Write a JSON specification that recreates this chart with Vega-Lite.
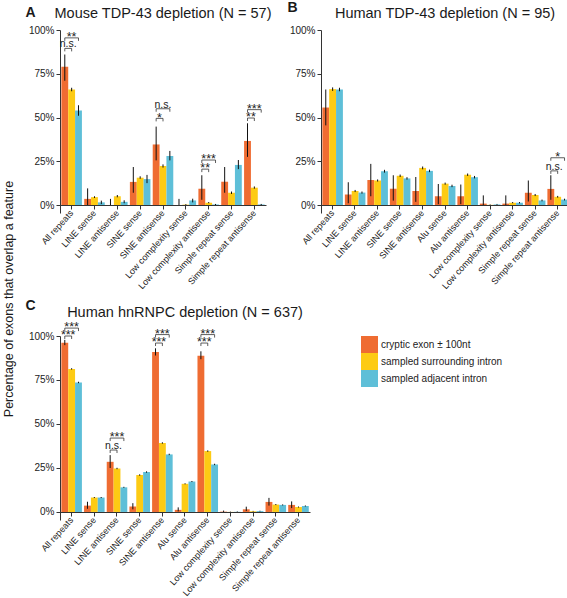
{
  "$schema": "https://vega.github.io/schema/vega-lite/v6.json",
  "padding": {"left": 2, "top": 0, "right": 0, "bottom": 0},
  "config": {
    "font": "Liberation Sans",
    "view": {"stroke": null},
    "axis": {"grid": false, "domainColor": "#333", "tickColor": "#333", "labelColor": "#222", "titleColor": "#222"},
    "title": {"font": "Liberation Sans", "fontWeight": "normal", "color": "#1a1a1a"}
  },
  "title": {"text": "Percentage of exons that overlap a feature", "orient": "left", "anchor": "middle", "fontSize": 12.5, "offset": 10},
  "datasets": {
    "A": [
      {"c": "All repeats", "s": "cryptic exon ± 100nt", "v": 79, "lo": 71, "hi": 86},
      {"c": "All repeats", "s": "sampled surrounding intron", "v": 66, "lo": 65, "hi": 67},
      {"c": "All repeats", "s": "sampled adjacent intron", "v": 54, "lo": 51, "hi": 57},
      {"c": "LINE sense", "s": "cryptic exon ± 100nt", "v": 3.5, "lo": 0, "hi": 9.5},
      {"c": "LINE sense", "s": "sampled surrounding intron", "v": 4.5, "lo": 4, "hi": 5},
      {"c": "LINE sense", "s": "sampled adjacent intron", "v": 1.5, "lo": 0.5, "hi": 2.5},
      {"c": "LINE antisense", "s": "cryptic exon ± 100nt", "v": 0, "lo": 0, "hi": 3.5},
      {"c": "LINE antisense", "s": "sampled surrounding intron", "v": 5, "lo": 4.4, "hi": 5.7},
      {"c": "LINE antisense", "s": "sampled adjacent intron", "v": 1.8, "lo": 1, "hi": 2.7},
      {"c": "SINE sense", "s": "cryptic exon ± 100nt", "v": 13.2, "lo": 7, "hi": 21.7},
      {"c": "SINE sense", "s": "sampled surrounding intron", "v": 15.6, "lo": 15, "hi": 16.4},
      {"c": "SINE sense", "s": "sampled adjacent intron", "v": 14.8, "lo": 12.5, "hi": 17.2},
      {"c": "SINE antisense", "s": "cryptic exon ± 100nt", "v": 34.6, "lo": 25.5, "hi": 44.8},
      {"c": "SINE antisense", "s": "sampled surrounding intron", "v": 22.3, "lo": 21.4, "hi": 23.2},
      {"c": "SINE antisense", "s": "sampled adjacent intron", "v": 28, "lo": 25.5, "hi": 30.9},
      {"c": "Low complexity sense", "s": "cryptic exon ± 100nt", "v": 0, "lo": 0, "hi": 3.5},
      {"c": "Low complexity sense", "s": "sampled surrounding intron", "v": 0.2, "lo": 0, "hi": 0.5},
      {"c": "Low complexity sense", "s": "sampled adjacent intron", "v": 2.6, "lo": 1.5, "hi": 3.6},
      {"c": "Low complexity antisense", "s": "cryptic exon ± 100nt", "v": 9.3, "lo": 3, "hi": 17},
      {"c": "Low complexity antisense", "s": "sampled surrounding intron", "v": 1.3, "lo": 1, "hi": 1.7},
      {"c": "Low complexity antisense", "s": "sampled adjacent intron", "v": 0.3, "lo": 0, "hi": 0.6},
      {"c": "Simple repeat sense", "s": "cryptic exon ± 100nt", "v": 13.3, "lo": 7, "hi": 21.7},
      {"c": "Simple repeat sense", "s": "sampled surrounding intron", "v": 7, "lo": 6.3, "hi": 7.7},
      {"c": "Simple repeat sense", "s": "sampled adjacent intron", "v": 22.9, "lo": 20.5, "hi": 25.7},
      {"c": "Simple repeat antisense", "s": "cryptic exon ± 100nt", "v": 36.6, "lo": 27.5, "hi": 46.7},
      {"c": "Simple repeat antisense", "s": "sampled surrounding intron", "v": 9.9, "lo": 9.3, "hi": 10.6},
      {"c": "Simple repeat antisense", "s": "sampled adjacent intron", "v": 0.3, "lo": 0, "hi": 0.6}
    ],
    "Abr": [
      {"c": "All repeats", "b": "lower", "from": "cryptic exon ± 100nt", "to": "sampled surrounding intron", "y": 89.5, "t": "n.s."},
      {"c": "All repeats", "b": "upper", "from": "cryptic exon ± 100nt", "to": "sampled adjacent intron", "y": 95.5, "t": "**"},
      {"c": "SINE antisense", "b": "lower", "from": "cryptic exon ± 100nt", "to": "sampled surrounding intron", "y": 49.5, "t": "*"},
      {"c": "SINE antisense", "b": "upper", "from": "cryptic exon ± 100nt", "to": "sampled adjacent intron", "y": 55, "t": "n.s."},
      {"c": "Low complexity antisense", "b": "lower", "from": "cryptic exon ± 100nt", "to": "sampled surrounding intron", "y": 20.5, "t": "**"},
      {"c": "Low complexity antisense", "b": "upper", "from": "cryptic exon ± 100nt", "to": "sampled adjacent intron", "y": 25.7, "t": "***"},
      {"c": "Simple repeat antisense", "b": "lower", "from": "cryptic exon ± 100nt", "to": "sampled surrounding intron", "y": 49.7, "t": "**"},
      {"c": "Simple repeat antisense", "b": "upper", "from": "cryptic exon ± 100nt", "to": "sampled adjacent intron", "y": 54.5, "t": "***"}
    ],
    "B": [
      {"c": "All repeats", "s": "cryptic exon ± 100nt", "v": 55.7, "lo": 45.5, "hi": 66},
      {"c": "All repeats", "s": "sampled surrounding intron", "v": 66.2, "lo": 65.2, "hi": 67.2},
      {"c": "All repeats", "s": "sampled adjacent intron", "v": 66, "lo": 65, "hi": 67},
      {"c": "LINE sense", "s": "cryptic exon ± 100nt", "v": 6, "lo": 1, "hi": 13},
      {"c": "LINE sense", "s": "sampled surrounding intron", "v": 8, "lo": 7.4, "hi": 8.6},
      {"c": "LINE sense", "s": "sampled adjacent intron", "v": 7.1, "lo": 6.5, "hi": 7.7},
      {"c": "LINE antisense", "s": "cryptic exon ± 100nt", "v": 14.3, "lo": 5, "hi": 23.5},
      {"c": "LINE antisense", "s": "sampled surrounding intron", "v": 14, "lo": 13.4, "hi": 14.6},
      {"c": "LINE antisense", "s": "sampled adjacent intron", "v": 19.3, "lo": 18.5, "hi": 20.1},
      {"c": "SINE sense", "s": "cryptic exon ± 100nt", "v": 9.3, "lo": 2.5, "hi": 17},
      {"c": "SINE sense", "s": "sampled surrounding intron", "v": 16.7, "lo": 16, "hi": 17.4},
      {"c": "SINE sense", "s": "sampled adjacent intron", "v": 15.2, "lo": 14.5, "hi": 15.9},
      {"c": "SINE antisense", "s": "cryptic exon ± 100nt", "v": 8, "lo": 1.8, "hi": 16},
      {"c": "SINE antisense", "s": "sampled surrounding intron", "v": 21.2, "lo": 20.4, "hi": 22},
      {"c": "SINE antisense", "s": "sampled adjacent intron", "v": 19.5, "lo": 18.8, "hi": 20.2},
      {"c": "Alu sense", "s": "cryptic exon ± 100nt", "v": 5, "lo": 0.5, "hi": 12},
      {"c": "Alu sense", "s": "sampled surrounding intron", "v": 12.2, "lo": 11.6, "hi": 12.8},
      {"c": "Alu sense", "s": "sampled adjacent intron", "v": 10.9, "lo": 10.2, "hi": 11.6},
      {"c": "Alu antisense", "s": "cryptic exon ± 100nt", "v": 5, "lo": 0.5, "hi": 11.7},
      {"c": "Alu antisense", "s": "sampled surrounding intron", "v": 17.3, "lo": 16.6, "hi": 18},
      {"c": "Alu antisense", "s": "sampled adjacent intron", "v": 15.9, "lo": 15.2, "hi": 16.6},
      {"c": "Low complexity sense", "s": "cryptic exon ± 100nt", "v": 0.8, "lo": 0, "hi": 5.5},
      {"c": "Low complexity sense", "s": "sampled surrounding intron", "v": 0.1, "lo": 0, "hi": 0.3},
      {"c": "Low complexity sense", "s": "sampled adjacent intron", "v": 0.3, "lo": 0.1, "hi": 0.6},
      {"c": "Low complexity antisense", "s": "cryptic exon ± 100nt", "v": 0.8, "lo": 0, "hi": 5.5},
      {"c": "Low complexity antisense", "s": "sampled surrounding intron", "v": 1.3, "lo": 1, "hi": 1.7},
      {"c": "Low complexity antisense", "s": "sampled adjacent intron", "v": 1.3, "lo": 0.9, "hi": 1.7},
      {"c": "Simple repeat sense", "s": "cryptic exon ± 100nt", "v": 7, "lo": 2, "hi": 14},
      {"c": "Simple repeat sense", "s": "sampled surrounding intron", "v": 5.7, "lo": 5.1, "hi": 6.3},
      {"c": "Simple repeat sense", "s": "sampled adjacent intron", "v": 2.6, "lo": 2.1, "hi": 3.1},
      {"c": "Simple repeat antisense", "s": "cryptic exon ± 100nt", "v": 9.2, "lo": 3, "hi": 17},
      {"c": "Simple repeat antisense", "s": "sampled surrounding intron", "v": 4.7, "lo": 4.2, "hi": 5.2},
      {"c": "Simple repeat antisense", "s": "sampled adjacent intron", "v": 3.1, "lo": 2.6, "hi": 3.6}
    ],
    "Bbr": [
      {"c": "Simple repeat antisense", "b": "lower", "from": "cryptic exon ± 100nt", "to": "sampled surrounding intron", "y": 19.5, "t": "n.s."},
      {"c": "Simple repeat antisense", "b": "upper", "from": "cryptic exon ± 100nt", "to": "sampled adjacent intron", "y": 27, "t": "*"}
    ],
    "C": [
      {"c": "All repeats", "s": "cryptic exon ± 100nt", "v": 96.2, "lo": 94.8, "hi": 97.8},
      {"c": "All repeats", "s": "sampled surrounding intron", "v": 81.3, "lo": 80.9, "hi": 81.7},
      {"c": "All repeats", "s": "sampled adjacent intron", "v": 73.6, "lo": 73.2, "hi": 74},
      {"c": "LINE sense", "s": "cryptic exon ± 100nt", "v": 3.6, "lo": 1.8, "hi": 5.8},
      {"c": "LINE sense", "s": "sampled surrounding intron", "v": 8.2, "lo": 7.9, "hi": 8.5},
      {"c": "LINE sense", "s": "sampled adjacent intron", "v": 8.2, "lo": 7.9, "hi": 8.5},
      {"c": "LINE antisense", "s": "cryptic exon ± 100nt", "v": 28.5, "lo": 25, "hi": 32.3},
      {"c": "LINE antisense", "s": "sampled surrounding intron", "v": 24.7, "lo": 24.3, "hi": 25.1},
      {"c": "LINE antisense", "s": "sampled adjacent intron", "v": 14, "lo": 13.7, "hi": 14.3},
      {"c": "SINE sense", "s": "cryptic exon ± 100nt", "v": 3.1, "lo": 1.5, "hi": 5},
      {"c": "SINE sense", "s": "sampled surrounding intron", "v": 21, "lo": 20.6, "hi": 21.4},
      {"c": "SINE sense", "s": "sampled adjacent intron", "v": 22.7, "lo": 22.3, "hi": 23.1},
      {"c": "SINE antisense", "s": "cryptic exon ± 100nt", "v": 90.9, "lo": 88.9, "hi": 93},
      {"c": "SINE antisense", "s": "sampled surrounding intron", "v": 39.2, "lo": 38.8, "hi": 39.6},
      {"c": "SINE antisense", "s": "sampled adjacent intron", "v": 32.7, "lo": 32.3, "hi": 33.1},
      {"c": "Alu sense", "s": "cryptic exon ± 100nt", "v": 1.2, "lo": 0.3, "hi": 2.6},
      {"c": "Alu sense", "s": "sampled surrounding intron", "v": 16, "lo": 15.7, "hi": 16.3},
      {"c": "Alu sense", "s": "sampled adjacent intron", "v": 17.3, "lo": 17, "hi": 17.6},
      {"c": "Alu antisense", "s": "cryptic exon ± 100nt", "v": 88.8, "lo": 86.8, "hi": 91.3},
      {"c": "Alu antisense", "s": "sampled surrounding intron", "v": 34.6, "lo": 34.2, "hi": 35},
      {"c": "Alu antisense", "s": "sampled adjacent intron", "v": 27, "lo": 26.6, "hi": 27.4},
      {"c": "Low complexity sense", "s": "cryptic exon ± 100nt", "v": 0.2, "lo": 0, "hi": 0.8},
      {"c": "Low complexity sense", "s": "sampled surrounding intron", "v": 0.05, "lo": 0, "hi": 0.2},
      {"c": "Low complexity sense", "s": "sampled adjacent intron", "v": 0.1, "lo": 0, "hi": 0.3},
      {"c": "Low complexity antisense", "s": "cryptic exon ± 100nt", "v": 1.5, "lo": 0.5, "hi": 3},
      {"c": "Low complexity antisense", "s": "sampled surrounding intron", "v": 0.4, "lo": 0.2, "hi": 0.6},
      {"c": "Low complexity antisense", "s": "sampled adjacent intron", "v": 0.5, "lo": 0.3, "hi": 0.7},
      {"c": "Simple repeat sense", "s": "cryptic exon ± 100nt", "v": 5.7, "lo": 3.6, "hi": 8},
      {"c": "Simple repeat sense", "s": "sampled surrounding intron", "v": 4.2, "lo": 3.9, "hi": 4.5},
      {"c": "Simple repeat sense", "s": "sampled adjacent intron", "v": 4, "lo": 3.7, "hi": 4.3},
      {"c": "Simple repeat antisense", "s": "cryptic exon ± 100nt", "v": 4, "lo": 2.2, "hi": 6},
      {"c": "Simple repeat antisense", "s": "sampled surrounding intron", "v": 2.8, "lo": 2.5, "hi": 3.1},
      {"c": "Simple repeat antisense", "s": "sampled adjacent intron", "v": 3.4, "lo": 3.1, "hi": 3.7}
    ],
    "Cbr": [
      {"c": "All repeats", "b": "lower", "from": "cryptic exon ± 100nt", "to": "sampled surrounding intron", "y": 100, "t": "***"},
      {"c": "All repeats", "b": "upper", "from": "cryptic exon ± 100nt", "to": "sampled adjacent intron", "y": 104.5, "t": "***"},
      {"c": "LINE antisense", "b": "lower", "from": "cryptic exon ± 100nt", "to": "sampled surrounding intron", "y": 35.2, "t": "n.s."},
      {"c": "LINE antisense", "b": "upper", "from": "cryptic exon ± 100nt", "to": "sampled adjacent intron", "y": 42, "t": "***"},
      {"c": "SINE antisense", "b": "lower", "from": "cryptic exon ± 100nt", "to": "sampled surrounding intron", "y": 96, "t": "***"},
      {"c": "SINE antisense", "b": "upper", "from": "cryptic exon ± 100nt", "to": "sampled adjacent intron", "y": 100.8, "t": "***"},
      {"c": "Alu antisense", "b": "lower", "from": "cryptic exon ± 100nt", "to": "sampled surrounding intron", "y": 96, "t": "***"},
      {"c": "Alu antisense", "b": "upper", "from": "cryptic exon ± 100nt", "to": "sampled adjacent intron", "y": 100.8, "t": "***"}
    ]
  },
  "vconcat": [
    {
      "hconcat": [
        {
          "title": {"text": "A", "anchor": "start", "fontSize": 14, "fontWeight": "bold", "offset": -14, "dx": -3},
          "vconcat": [
            {
              "width": 206, "height": 183,
              "title": {"text": "Mouse TDP-43 depletion (N = 57)", "fontSize": 14.5, "anchor": "middle", "frame": "group", "offset": 4},
              "encoding": {
                "x": {"field": "c", "type": "nominal", "sort": null, "title": null,
                  "scale": {"domain": ["All repeats", "LINE sense", "LINE antisense", "SINE sense", "SINE antisense", "Low complexity sense", "Low complexity antisense", "Simple repeat sense", "Simple repeat antisense"], "paddingInner": 0.1, "paddingOuter": 0.06},
                  "axis": {"labelAngle": -48, "labelAlign": "right", "labelBaseline": "middle", "labelFontSize": 9, "tickSize": 4, "offset": -8, "labelPadding": 2, "labelLimit": 0}}
              },
              "layer": [
                {"data": {"name": "A"}, "mark": {"type": "bar"},
                  "encoding": {
                    "xOffset": {"field": "s", "type": "nominal", "sort": null, "scale": {"domain": ["cryptic exon ± 100nt", "sampled surrounding intron", "sampled adjacent intron"], "paddingInner": 0, "paddingOuter": 0}},
                    "y": {"field": "v", "type": "quantitative", "title": null, "scale": {"domain": [-4.57, 100], "nice": false, "zero": false},
                      "axis": {"values": [0, 25, 50, 75, 100], "labelExpr": "datum.value + '%'", "labelFontSize": 10, "tickSize": 4, "labelPadding": 2}},
                    "color": {"field": "s", "type": "nominal", "legend": null, "scale": {"domain": ["cryptic exon ± 100nt", "sampled surrounding intron", "sampled adjacent intron"], "range": ["#EF6C32", "#FDCB14", "#5EBFD8"]}}
                  }},
                {"data": {"name": "A"}, "mark": {"type": "rule", "color": "#111", "strokeWidth": 1},
                  "encoding": {"xOffset": {"field": "s", "type": "nominal", "sort": null}, "y": {"field": "lo", "type": "quantitative", "title": null}, "y2": {"field": "hi"}}},
                {"data": {"name": "Abr"}, "transform": [{"fold": ["from", "to"], "as": ["end", "s"]}], "mark": {"type": "line", "color": "#333", "strokeWidth": 0.8},
                  "encoding": {"xOffset": {"field": "s", "type": "nominal", "sort": null}, "y": {"field": "y", "type": "quantitative", "title": null}, "detail": [{"field": "c"}, {"field": "b"}]}},
                {"data": {"name": "Abr"}, "transform": [{"fold": ["from", "to"], "as": ["end", "s"]}], "mark": {"type": "rule", "color": "#333", "strokeWidth": 0.8, "y2Offset": 3},
                  "encoding": {"xOffset": {"field": "s", "type": "nominal", "sort": null}, "y": {"field": "y", "type": "quantitative", "title": null}, "y2": {"field": "y"}}},
                {"data": {"name": "Abr"}, "transform": [{"filter": "datum.b == 'lower' && datum.t == 'n.s.'"}], "mark": {"type": "text", "fontSize": 10.5, "dx": 3.4, "dy": -1.2, "baseline": "alphabetic", "color": "#222"},
                  "encoding": {"xOffset": {"field": "from", "type": "nominal", "sort": null}, "y": {"field": "y", "type": "quantitative", "title": null}, "text": {"field": "t"}}},
                {"data": {"name": "Abr"}, "transform": [{"filter": "datum.b == 'lower' && datum.t != 'n.s.'"}], "mark": {"type": "text", "fontSize": 12.5, "dx": 3.4, "dy": 3.3, "baseline": "alphabetic", "color": "#222"},
                  "encoding": {"xOffset": {"field": "from", "type": "nominal", "sort": null}, "y": {"field": "y", "type": "quantitative", "title": null}, "text": {"field": "t"}}},
                {"data": {"name": "Abr"}, "transform": [{"filter": "datum.b == 'upper' && datum.t == 'n.s.'"}], "mark": {"type": "text", "fontSize": 10.5, "dx": 6.8, "dy": -1.2, "baseline": "alphabetic", "color": "#222"},
                  "encoding": {"xOffset": {"field": "from", "type": "nominal", "sort": null}, "y": {"field": "y", "type": "quantitative", "title": null}, "text": {"field": "t"}}},
                {"data": {"name": "Abr"}, "transform": [{"filter": "datum.b == 'upper' && datum.t != 'n.s.'"}], "mark": {"type": "text", "fontSize": 12.5, "dx": 6.8, "dy": 3.3, "baseline": "alphabetic", "color": "#222"},
                  "encoding": {"xOffset": {"field": "from", "type": "nominal", "sort": null}, "y": {"field": "y", "type": "quantitative", "title": null}, "text": {"field": "t"}}}
              ]
            }
          ],
          "resolve": {"scale": {"color": "independent"}}
        },
        {
          "title": {"text": "B", "anchor": "start", "fontSize": 14, "fontWeight": "bold", "offset": -9, "dx": -2},
          "vconcat": [
            {
              "width": 248, "height": 183,
              "title": {"text": "Human TDP-43 depletion (N = 95)", "fontSize": 14.5, "anchor": "middle", "frame": "group", "offset": 4},
              "encoding": {
                "x": {"field": "c", "type": "nominal", "sort": null, "title": null,
                  "scale": {"domain": ["All repeats", "LINE sense", "LINE antisense", "SINE sense", "SINE antisense", "Alu sense", "Alu antisense", "Low complexity sense", "Low complexity antisense", "Simple repeat sense", "Simple repeat antisense"], "paddingInner": 0.1, "paddingOuter": 0.06},
                  "axis": {"labelAngle": -48, "labelAlign": "right", "labelBaseline": "middle", "labelFontSize": 9, "tickSize": 4, "offset": -8, "labelPadding": 2, "labelLimit": 0}}
              },
              "layer": [
                {"data": {"name": "B"}, "mark": {"type": "bar"},
                  "encoding": {
                    "xOffset": {"field": "s", "type": "nominal", "sort": null, "scale": {"domain": ["cryptic exon ± 100nt", "sampled surrounding intron", "sampled adjacent intron"], "paddingInner": 0, "paddingOuter": 0}},
                    "y": {"field": "v", "type": "quantitative", "title": null, "scale": {"domain": [-4.57, 100], "nice": false, "zero": false},
                      "axis": {"values": [0, 25, 50, 75, 100], "labelExpr": "datum.value + '%'", "labelFontSize": 10, "tickSize": 4, "labelPadding": 2}},
                    "color": {"field": "s", "type": "nominal", "legend": null, "scale": {"domain": ["cryptic exon ± 100nt", "sampled surrounding intron", "sampled adjacent intron"], "range": ["#EF6C32", "#FDCB14", "#5EBFD8"]}}
                  }},
                {"data": {"name": "B"}, "mark": {"type": "rule", "color": "#111", "strokeWidth": 1},
                  "encoding": {"xOffset": {"field": "s", "type": "nominal", "sort": null}, "y": {"field": "lo", "type": "quantitative", "title": null}, "y2": {"field": "hi"}}},
                {"data": {"name": "Bbr"}, "transform": [{"fold": ["from", "to"], "as": ["end", "s"]}], "mark": {"type": "line", "color": "#333", "strokeWidth": 0.8},
                  "encoding": {"xOffset": {"field": "s", "type": "nominal", "sort": null}, "y": {"field": "y", "type": "quantitative", "title": null}, "detail": [{"field": "c"}, {"field": "b"}]}},
                {"data": {"name": "Bbr"}, "transform": [{"fold": ["from", "to"], "as": ["end", "s"]}], "mark": {"type": "rule", "color": "#333", "strokeWidth": 0.8, "y2Offset": 3},
                  "encoding": {"xOffset": {"field": "s", "type": "nominal", "sort": null}, "y": {"field": "y", "type": "quantitative", "title": null}, "y2": {"field": "y"}}},
                {"data": {"name": "Bbr"}, "transform": [{"filter": "datum.b == 'lower'"}], "mark": {"type": "text", "fontSize": 10.5, "dx": 3.4, "dy": -1.2, "baseline": "alphabetic", "color": "#222"},
                  "encoding": {"xOffset": {"field": "from", "type": "nominal", "sort": null}, "y": {"field": "y", "type": "quantitative", "title": null}, "text": {"field": "t"}}},
                {"data": {"name": "Bbr"}, "transform": [{"filter": "datum.b == 'upper'"}], "mark": {"type": "text", "fontSize": 12.5, "dx": 6.8, "dy": 3.3, "baseline": "alphabetic", "color": "#222"},
                  "encoding": {"xOffset": {"field": "from", "type": "nominal", "sort": null}, "y": {"field": "y", "type": "quantitative", "title": null}, "text": {"field": "t"}}}
              ]
            }
          ],
          "resolve": {"scale": {"color": "independent"}}
        }
      ],
      "spacing": 15,
      "resolve": {"scale": {"color": "independent"}}
    },
    {
      "title": {"text": "C", "anchor": "start", "fontSize": 14, "fontWeight": "bold", "offset": -8, "dx": -3},
      "vconcat": [
        {
          "width": 250, "height": 184,
          "title": {"text": "Human hnRNPC depletion (N = 637)", "fontSize": 14.5, "anchor": "middle", "frame": "group", "offset": 1},
          "encoding": {
            "x": {"field": "c", "type": "nominal", "sort": null, "title": null,
              "scale": {"domain": ["All repeats", "LINE sense", "LINE antisense", "SINE sense", "SINE antisense", "Alu sense", "Alu antisense", "Low complexity sense", "Low complexity antisense", "Simple repeat sense", "Simple repeat antisense"], "paddingInner": 0.1, "paddingOuter": 0.06},
              "axis": {"labelAngle": -48, "labelAlign": "right", "labelBaseline": "middle", "labelFontSize": 9, "tickSize": 4, "offset": -8, "labelPadding": 2, "labelLimit": 0}}
          },
          "layer": [
            {"data": {"name": "C"}, "mark": {"type": "bar"},
              "encoding": {
                "xOffset": {"field": "s", "type": "nominal", "sort": null, "scale": {"domain": ["cryptic exon ± 100nt", "sampled surrounding intron", "sampled adjacent intron"], "paddingInner": 0, "paddingOuter": 0}},
                "y": {"field": "v", "type": "quantitative", "title": null, "scale": {"domain": [-4.57, 100], "nice": false, "zero": false},
                  "axis": {"values": [0, 25, 50, 75, 100], "labelExpr": "datum.value + '%'", "labelFontSize": 10, "tickSize": 4, "labelPadding": 2}},
                "color": {"field": "s", "type": "nominal", "scale": {"domain": ["cryptic exon ± 100nt", "sampled surrounding intron", "sampled adjacent intron"], "range": ["#EF6C32", "#FDCB14", "#5EBFD8"]},
                  "legend": {"title": null, "orient": "right", "offset": 51, "padding": 0, "symbolType": "square", "symbolSize": 289, "symbolStrokeWidth": 0, "rowPadding": 0, "labelFontSize": 10, "labelOffset": 3, "labelColor": "#222", "labelLimit": 0}}
              }},
            {"data": {"name": "C"}, "mark": {"type": "rule", "color": "#111", "strokeWidth": 1},
              "encoding": {"xOffset": {"field": "s", "type": "nominal", "sort": null}, "y": {"field": "lo", "type": "quantitative", "title": null}, "y2": {"field": "hi"}}},
            {"data": {"name": "Cbr"}, "transform": [{"fold": ["from", "to"], "as": ["end", "s"]}], "mark": {"type": "line", "color": "#333", "strokeWidth": 0.8, "clip": false},
              "encoding": {"xOffset": {"field": "s", "type": "nominal", "sort": null}, "y": {"field": "y", "type": "quantitative", "title": null}, "detail": [{"field": "c"}, {"field": "b"}]}},
            {"data": {"name": "Cbr"}, "transform": [{"fold": ["from", "to"], "as": ["end", "s"]}], "mark": {"type": "rule", "color": "#333", "strokeWidth": 0.8, "y2Offset": 3},
              "encoding": {"xOffset": {"field": "s", "type": "nominal", "sort": null}, "y": {"field": "y", "type": "quantitative", "title": null}, "y2": {"field": "y"}}},
            {"data": {"name": "Cbr"}, "transform": [{"filter": "datum.b == 'lower' && datum.t == 'n.s.'"}], "mark": {"type": "text", "fontSize": 10.5, "dx": 3.4, "dy": -1.2, "baseline": "alphabetic", "color": "#222"},
              "encoding": {"xOffset": {"field": "from", "type": "nominal", "sort": null}, "y": {"field": "y", "type": "quantitative", "title": null}, "text": {"field": "t"}}},
            {"data": {"name": "Cbr"}, "transform": [{"filter": "datum.b == 'lower' && datum.t != 'n.s.'"}], "mark": {"type": "text", "fontSize": 12.5, "dx": 3.4, "dy": 3.3, "baseline": "alphabetic", "color": "#222"},
              "encoding": {"xOffset": {"field": "from", "type": "nominal", "sort": null}, "y": {"field": "y", "type": "quantitative", "title": null}, "text": {"field": "t"}}},
            {"data": {"name": "Cbr"}, "transform": [{"filter": "datum.b == 'upper'"}], "mark": {"type": "text", "fontSize": 12.5, "dx": 6.8, "dy": 3.3, "baseline": "alphabetic", "color": "#222"},
              "encoding": {"xOffset": {"field": "from", "type": "nominal", "sort": null}, "y": {"field": "y", "type": "quantitative", "title": null}, "text": {"field": "t"}}}
          ]
        }
      ],
      "resolve": {"scale": {"color": "independent"}}
    }
  ],
  "spacing": 7,
  "resolve": {"scale": {"color": "independent"}}
}
